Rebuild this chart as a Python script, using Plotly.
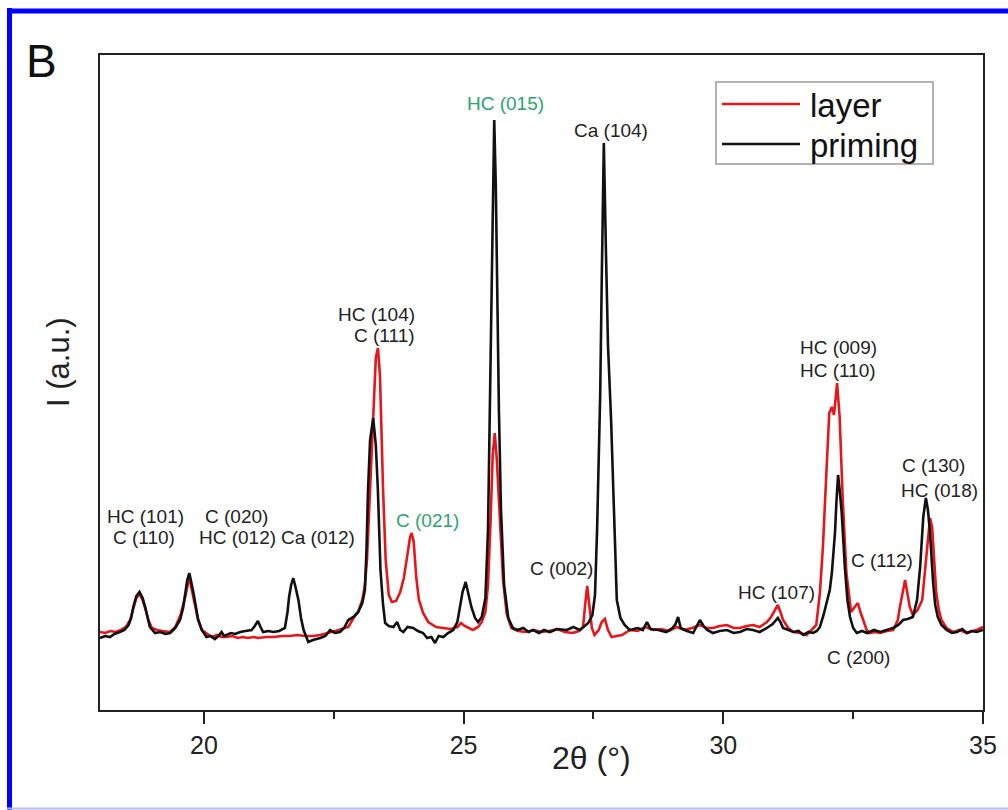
import plotly.graph_objects as go

# ---------------- data (2theta in degrees, intensity in a.u.) ----------------
priming_2theta = [
    18.00, 18.10, 18.19, 18.28, 18.38, 18.47, 18.55, 18.60, 18.64, 18.70, 18.76, 18.82, 18.87, 18.92, 18.96,
    19.06, 19.16, 19.26, 19.35, 19.45, 19.54, 19.60, 19.64, 19.68, 19.72, 19.76, 19.80, 19.85, 19.89, 19.96,
    20.05, 20.13, 20.21, 20.28, 20.34, 20.39, 20.44, 20.52, 20.60, 20.70, 20.80, 20.92, 20.98, 21.04, 21.09,
    21.14, 21.24, 21.34, 21.45, 21.56, 21.61, 21.64, 21.68, 21.72, 21.76, 21.82, 21.87, 21.92, 22.01, 22.10,
    22.24, 22.34, 22.43, 22.52, 22.62, 22.70, 22.78, 22.88, 22.97, 23.05, 23.10, 23.13, 23.16, 23.20, 23.26,
    23.31, 23.35, 23.40, 23.45, 23.49, 23.56, 23.65, 23.72, 23.78, 23.84, 23.92, 24.03, 24.12, 24.22, 24.30,
    24.38, 24.45, 24.52, 24.61, 24.70, 24.80, 24.88, 24.93, 24.98, 25.04, 25.10, 25.15, 25.22, 25.28, 25.35,
    25.42, 25.47, 25.50, 25.53, 25.56, 25.59, 25.62, 25.65, 25.68, 25.72, 25.78, 25.86, 25.95, 26.03, 26.15,
    26.25, 26.34, 26.45, 26.55, 26.66, 26.80, 26.99, 27.11, 27.24, 27.32, 27.40, 27.48, 27.53, 27.57, 27.60,
    27.63, 27.66, 27.70, 27.74, 27.78, 27.84, 27.90, 27.95, 28.02, 28.10, 28.20, 28.35, 28.45, 28.53, 28.60,
    28.75, 28.90, 29.02, 29.08, 29.13, 29.18, 29.30, 29.42, 29.50, 29.55, 29.62, 29.69, 29.80, 29.93, 30.07,
    30.20, 30.32, 30.45, 30.57, 30.70, 30.84, 30.95, 31.05, 31.10, 31.15, 31.25, 31.35, 31.45, 31.54, 31.64,
    31.73, 31.80, 31.86, 31.93, 32.00, 32.05, 32.09, 32.15, 32.18, 32.21, 32.25, 32.28, 32.34, 32.39, 32.44,
    32.50, 32.57, 32.67, 32.77, 32.90, 33.02, 33.15, 33.27, 33.37, 33.46, 33.55, 33.65, 33.73, 33.79, 33.85,
    33.90, 33.94, 33.98, 34.04, 34.08, 34.13, 34.20, 34.30, 34.40, 34.50, 34.60, 34.69, 34.78, 34.88, 35.00,
]
priming_intensity = [
    94, 96, 95, 98, 100, 102, 107, 114, 125, 136, 140, 134, 125, 114, 105,
    99, 100, 98, 99, 104, 112, 124, 139, 152, 159, 150, 139, 124, 112, 102,
    95, 96, 93, 96, 100, 96, 97, 99, 98, 100, 101, 102, 106, 111, 105,
    100, 101, 100, 101, 104, 120, 135, 147, 154, 146, 132, 114, 102, 90, 92,
    94, 96, 102, 99, 100, 104, 112, 115, 120, 129, 142, 182, 242, 292, 314,
    287, 242, 162, 127, 109, 106, 105, 110, 102, 100, 105, 104, 101, 99, 94,
    95, 89, 96, 95, 99, 102, 110, 125, 140, 150, 137, 125, 114, 110, 115,
    134, 202, 312, 432, 542, 612, 547, 432, 322, 222, 147, 114, 104, 102, 104,
    100, 102, 99, 102, 100, 103, 102, 105, 102, 106, 109, 117, 137, 202, 262,
    337, 452, 589, 482, 387, 312, 202, 132, 114, 107, 102, 104, 102, 110, 103,
    102, 100, 104, 108, 115, 104, 101, 99, 107, 112, 106, 102, 99, 101, 102,
    99, 100, 103, 102, 100, 104, 108, 114, 110, 104, 102, 100, 101, 97, 100,
    99, 101, 105, 117, 132, 142, 159, 199, 232, 257, 237, 219, 165, 132, 115,
    104, 99, 101, 99, 102, 100, 102, 104, 107, 112, 113, 115, 132, 165, 215,
    234, 222, 199, 149, 127, 115, 107, 102, 99, 100, 103, 99, 101, 100, 102,
]

layer_2theta = [
    18.00, 18.10, 18.20, 18.30, 18.40, 18.50, 18.58, 18.64, 18.70, 18.76, 18.82, 18.88, 18.93, 19.00, 19.10,
    19.20, 19.35, 19.45, 19.55, 19.64, 19.68, 19.72, 19.76, 19.82, 19.88, 19.96, 20.06, 20.15, 20.26, 20.34,
    20.44, 20.55, 20.65, 20.75, 20.85, 20.95, 21.05, 21.20, 21.35, 21.50, 21.65, 21.80, 21.95, 22.10, 22.24,
    22.40, 22.50, 22.60, 22.70, 22.78, 22.88, 22.97, 23.05, 23.10, 23.14, 23.20, 23.26, 23.31, 23.35, 23.39,
    23.45, 23.50, 23.56, 23.62, 23.70, 23.78, 23.85, 23.92, 23.97, 24.00, 24.04, 24.09, 24.14, 24.22, 24.32,
    24.47, 24.60, 24.75, 24.88, 24.95, 25.02, 25.10, 25.18, 25.28, 25.35, 25.42, 25.47, 25.52, 25.56, 25.60,
    25.64, 25.70, 25.76, 25.83, 25.92, 26.05, 26.20, 26.35, 26.50, 26.65, 26.80, 26.95, 27.10, 27.22, 27.30,
    27.34, 27.38, 27.42, 27.47, 27.52, 27.60, 27.66, 27.72, 27.78, 27.85, 27.95, 28.05, 28.20, 28.35, 28.50,
    28.65, 28.80, 28.95, 29.10, 29.25, 29.40, 29.55, 29.68, 29.80, 29.93, 30.07, 30.20, 30.32, 30.45, 30.57,
    30.70, 30.84, 30.92, 30.97, 31.05, 31.10, 31.15, 31.25, 31.35, 31.48, 31.60, 31.70, 31.79, 31.86, 31.92,
    31.96, 32.00, 32.04, 32.09, 32.13, 32.16, 32.19, 32.24, 32.30, 32.37, 32.46, 32.53, 32.59, 32.64, 32.69,
    32.76, 32.82, 32.92, 33.02, 33.15, 33.27, 33.36, 33.40, 33.45, 33.50, 33.55, 33.59, 33.65, 33.74, 33.83,
    33.89, 33.92, 33.98, 34.02, 34.06, 34.10, 34.15, 34.20, 34.30, 34.43, 34.55, 34.69, 34.80, 34.88, 35.00,
]
layer_intensity = [
    100, 99, 101, 100, 102, 105, 112, 122, 134, 138, 132, 122, 112, 104, 102,
    101, 100, 105, 117, 135, 147, 155, 144, 129, 114, 102, 98, 95, 97, 95,
    95, 96, 94, 95, 94, 95, 94, 95, 95, 96, 96, 97, 96, 96, 97,
    99, 100, 102, 104, 105, 114, 120, 132, 147, 172, 242, 327, 374, 384, 357,
    242, 172, 137, 130, 131, 140, 154, 177, 195, 199, 190, 154, 132, 119, 110,
    105, 104, 103, 105, 109, 106, 104, 102, 105, 110, 120, 147, 212, 277, 299,
    272, 212, 152, 118, 104, 101, 100, 102, 100, 101, 103, 100, 99, 101, 105,
    127, 146, 127, 104, 97, 102, 110, 113, 102, 95, 96, 97, 102, 101, 105,
    102, 103, 101, 105, 102, 104, 107, 104, 104, 106, 107, 104, 104, 106, 107,
    105, 110, 115, 120, 127, 120, 112, 104, 100, 99, 97, 102, 107, 139, 187,
    232, 282, 319, 325, 317, 332, 349, 315, 232, 159, 120, 125, 129, 120, 112,
    102, 99, 100, 99, 101, 102, 112, 125, 140, 152, 137, 125, 117, 122, 132,
    162, 182, 214, 205, 172, 139, 122, 112, 104, 100, 102, 99, 101, 102, 105,
]

tick_values = [20, 25, 30, 35]
tick_labels = ["20", "25", "30", "35"]
minor_tick_values = [22.5, 27.5, 32.5]

# peak labels: text, 2theta position, intensity position, colour group, anchor
peak_labels = ["HC (101)", "C (110)", "C (020)", "HC (012)", "Ca (012)", "HC (104)", "C (111)",
               "C (021)", "HC (015)", "Ca (104)", "C (002)", "HC (107)", "HC (009)", "HC (110)",
               "C (112)", "C (130)", "HC (018)", "C (200)"]
peak_label_x = [18.87, 18.85, 20.62, 20.64, 22.20, 24.10, 24.10,
                24.31, 25.80, 27.84, 26.88, 31.03, 32.21, 32.21,
                33.06, 34.04, 34.17, 32.61]
peak_label_y = [216, 195, 216, 195, 195, 418, 397,
                212, 629, 602, 164, 140, 385, 362,
                172, 267, 242, 75]
peak_label_green = [False, False, False, False, False, False, False,
                    True, True, False, False, False, False, False,
                    False, False, False, False]
peak_label_anchor = ["center", "center", "center", "center", "center", "right", "right",
                     "center", "center", "center", "center", "center", "center", "center",
                     "center", "center", "center", "center"]

series_names = ["layer", "priming"]
series_colors = ["#e8161b", "#111111"]

# ---------------- figure ----------------
FONT = "Liberation Sans, Arial, Helvetica, sans-serif"
L, R, T, B = 100, 25, 55, 100
W, H = 1008, 810
PW, PH = W - L - R, H - T - B


def px(x):
    return (x - L) / PW


def py(y):
    return (H - B - y) / PH


fig = go.Figure()
fig.add_trace(go.Scatter(x=layer_2theta, y=layer_intensity, mode="lines", name=series_names[0],
                         line=dict(color=series_colors[0], width=2.6), showlegend=False))
fig.add_trace(go.Scatter(x=priming_2theta, y=priming_intensity, mode="lines", name=series_names[1],
                         line=dict(color=series_colors[1], width=2.6), showlegend=False))

annotations = []
for txt, x, y, g, a in zip(peak_labels, peak_label_x, peak_label_y, peak_label_green, peak_label_anchor):
    annotations.append(dict(x=x, y=y, xref="x", yref="y", text=txt, showarrow=False,
                            xanchor=a, yanchor="middle",
                            font=dict(family=FONT, size=19, color="#2aa56e" if g else "#222222")))

# axis titles, panel letter
annotations.append(dict(x=px(591), y=py(758), xref="paper", yref="paper", text="2θ (°)", showarrow=False,
                        xanchor="center", yanchor="middle", font=dict(family=FONT, size=32, color="#222")))
annotations.append(dict(x=px(58), y=py(362), xref="paper", yref="paper", text="I (a.u.)", showarrow=False,
                        textangle=-90, xanchor="center", yanchor="middle",
                        font=dict(family=FONT, size=31, color="#222")))
annotations.append(dict(x=px(41), y=py(61), xref="paper", yref="paper", text="B", showarrow=False,
                        xanchor="center", yanchor="middle", font=dict(family=FONT, size=46, color="#111")))

# manual legend
legend_rows_y = [104, 144]
for name, col, ly in zip(series_names, series_colors, legend_rows_y):
    annotations.append(dict(x=px(808), y=py(ly + 2), xref="paper", yref="paper", text=name, showarrow=False,
                            xanchor="left", yanchor="middle", font=dict(family=FONT, size=33, color="#111")))

shapes = [
    dict(type="rect", xref="paper", yref="paper", x0=px(716), x1=px(933), y0=py(82), y1=py(164),
         line=dict(color="#9a9a9a", width=1.5), fillcolor="rgba(0,0,0,0)"),
]
for col, ly in zip(series_colors, legend_rows_y):
    shapes.append(dict(type="line", xref="paper", yref="paper", x0=px(722), x1=px(800), y0=py(ly), y1=py(ly),
                       line=dict(color=col, width=2.6)))

# blue image frame
shapes += [
    dict(type="line", xref="paper", yref="paper", x0=px(9.5), x1=px(9.5), y0=py(8), y1=py(812),
         line=dict(color="#0000ff", width=5)),
    dict(type="line", xref="paper", yref="paper", x0=px(7), x1=px(1010), y0=py(11), y1=py(11),
         line=dict(color="#0000ff", width=5)),
    dict(type="line", xref="paper", yref="paper", x0=px(7), x1=px(1010), y0=py(808.5), y1=py(808.5),
         line=dict(color="#b4b8ff", width=2)),
]

fig.update_layout(
    width=W, height=H,
    margin=dict(l=L, r=R, t=T, b=B),
    paper_bgcolor="white", plot_bgcolor="white",
    font=dict(family=FONT, color="#222"),
    showlegend=False,
    annotations=annotations,
    shapes=shapes,
)
fig.update_xaxes(
    range=[18, 35], showgrid=False, zeroline=False,
    showline=True, linecolor="#222", linewidth=2, mirror=True,
    tickmode="array", tickvals=tick_values, ticktext=tick_labels,
    ticks="outside", ticklen=12, tickwidth=2, tickcolor="#222",
    tickfont=dict(family=FONT, size=25, color="#222"),
    minor=dict(tickmode="array", tickvals=minor_tick_values, ticks="outside", ticklen=7,
               tickwidth=2, tickcolor="#222"),
)
fig.update_yaxes(
    range=[22, 677], showgrid=False, zeroline=False,
    showline=True, linecolor="#222", linewidth=2, mirror=True,
    ticks="", showticklabels=False,
)

fig.write_html("out.html", config={"displayModeBar": False},
               post_script="document.body.style.margin='0';document.body.style.overflow='hidden';")
